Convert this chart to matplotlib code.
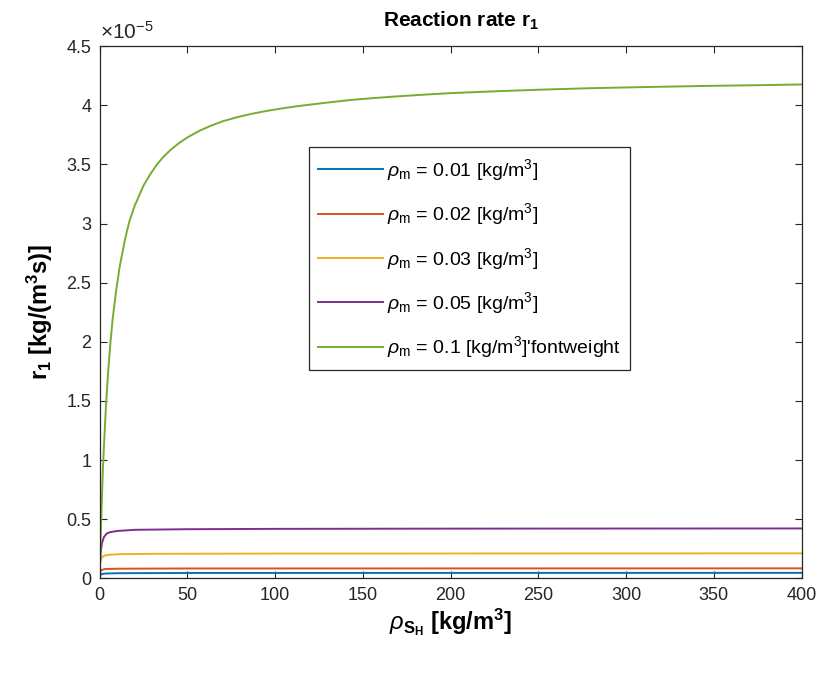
"""
Reaction rate r1 versus substrate density, one curve per biomass density
"""
import numpy as np
import matplotlib
matplotlib.use("Agg")
import matplotlib.pyplot as plt

# values, r1 in units of 1e-5 kg/(m^3 s)
rho_m = ["0.01", "0.02", "0.03", "0.05", "0.1"]

blue_x = [0, 0.3, 1, 3, 10, 50, 400]
blue_r = [0, 0.025, 0.035, 0.040, 0.043, 0.045, 0.046]

orange_x = [0, 0.3, 1, 3, 10, 50, 400]
orange_r = [0, 0.05, 0.07, 0.078, 0.081, 0.083, 0.084]

yellow_x = [0, 0.3, 0.8, 1.5, 3, 6, 12, 30, 100, 400]
yellow_r = [0, 0.12, 0.16, 0.18, 0.193, 0.200, 0.204, 0.207, 0.209, 0.211]

purple_x = [0, 0.3, 0.7, 1.4, 2.5, 4.2, 6, 10, 20, 50, 100, 200, 400]
purple_r = [0, 0.15, 0.23, 0.30, 0.35, 0.38, 0.39, 0.40, 0.41, 0.415, 0.418,
            0.420, 0.4216]

green_x = [0, 0.3, 0.5, 0.8, 1.2, 1.9, 2.5, 3.6, 4.8, 6.1, 7.5, 9.4, 11.5,
           14.7, 17, 20, 25, 29, 32.7, 36, 40, 45, 50, 57, 63, 70, 78, 86,
           95, 105, 114, 128, 143, 157, 171, 185, 200, 228, 255, 281, 310,
           346, 375, 400]
green_r = [0, 0.175, 0.28, 0.45, 0.62, 0.93, 1.12, 1.45, 1.73, 1.98, 2.2,
           2.43, 2.64, 2.88, 3.02, 3.15, 3.32, 3.42, 3.50, 3.558, 3.617,
           3.678, 3.728, 3.785, 3.825, 3.864, 3.898, 3.926, 3.952, 3.976,
           3.995, 4.02, 4.045, 4.062, 4.077, 4.09, 4.103, 4.12, 4.134, 4.145,
           4.154, 4.164, 4.170, 4.176]

colors = ["#0072BD", "#D95319", "#EDB120", "#7E2F8E", "#77AC30"]

plt.rcParams["font.family"] = ["Liberation Sans", "DejaVu Sans"]
plt.rcParams["mathtext.fontset"] = "custom"
plt.rcParams["mathtext.rm"] = "Liberation Sans"
plt.rcParams["mathtext.it"] = "Liberation Sans:italic"
plt.rcParams["mathtext.bf"] = "Liberation Sans:bold"

fig = plt.figure(figsize=(8.21, 6.77), dpi=100)
ax = fig.add_axes([0.1213, 0.1458, 0.855, 0.786])

xs = [blue_x, orange_x, yellow_x, purple_x, green_x]
rs = [blue_r, orange_r, yellow_r, purple_r, green_r]
for i in range(len(xs)):
    lab = r"$\rho_{\mathrm{m}}$ = " + rho_m[i] + r" [kg/m$^3$]"
    if i == len(xs) - 1:
        lab = lab + "'fontweight"
    ax.plot(xs[i], rs[i], color=colors[i], lw=1.4, label=lab)

ax.set_xlim(0, 400)
ax.set_ylim(0, 4.5)
ax.set_xticks(np.arange(0, 401, 50))
ax.set_yticks(np.arange(0, 4.51, 0.5))
ax.set_yticklabels(["0", "0.5", "1", "1.5", "2", "2.5", "3", "3.5", "4", "4.5"])
ax.tick_params(direction="in", top=True, right=True, length=5, width=0.8,
               labelsize=13, colors="#262626", pad=6)
for s in ax.spines.values():
    s.set_color("#262626")
    s.set_linewidth(0.9)

ax.text(0.0, 1.006, r"$\times$10$^{-5}$", transform=ax.transAxes,
        fontsize=15, color="#262626", ha="left", va="bottom")

ax.set_title(r"Reaction rate r$_{\mathbf{1}}$", fontsize=15, fontweight="bold",
             pad=14, x=0.515)
ax.set_xlabel(r"$\rho_{\mathbf{S}_{\mathbf{H}}}$ [kg/m$^{\mathbf{3}}$]",
              fontsize=17, fontweight="bold", labelpad=2)
ax.set_ylabel(r"$\mathbf{r}_{\mathbf{1}}$ [kg/(m$^{\mathbf{3}}$s)]",
              fontsize=17, fontweight="bold", labelpad=8)

leg = ax.legend(loc="upper left", bbox_to_anchor=(0.298, 0.81), fontsize=14,
                fancybox=False, edgecolor="#262626", framealpha=1,
                handlelength=3.3, labelspacing=0.95, borderpad=0.5,
                handletextpad=0.2, borderaxespad=0)
leg.get_frame().set_linewidth(0.9)

fig.savefig("out.png", dpi=100)
